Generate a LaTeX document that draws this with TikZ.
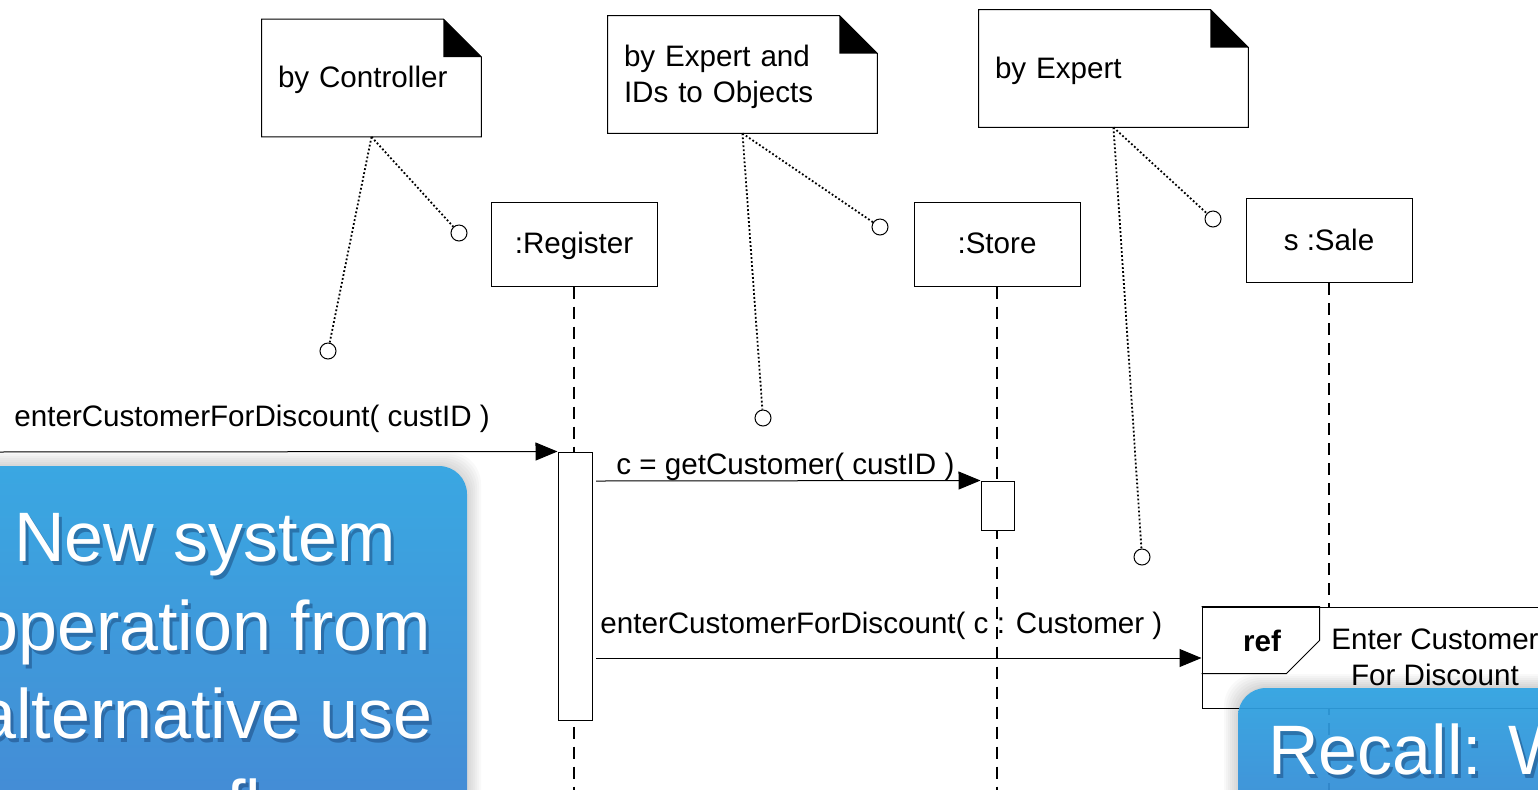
\documentclass[tikz,border=0pt]{standalone}
\usepackage{fontspec}
\setmainfont{Liberation Sans}
\usetikzlibrary{arrows.meta,positioning}

\newcommand\diagfont{\fontsize{14.8}{18}\selectfont}
\newcommand\bigcallfont{\fontsize{35}{44}\selectfont}
\newcommand\notestrut{\rule{0pt}{12.8pt}}
\definecolor{calltop}{RGB}{47,164,227}
\definecolor{callbot}{RGB}{58,132,212}
\definecolor{callshade}{RGB}{20,60,110}

\tikzset{
  lifehead/.style={draw, line width=0.5pt, minimum width=83pt, minimum height=42pt,
    inner sep=0pt, text height=12.6pt, text depth=3pt, font=\diagfont},
  lifeline/.style={dash pattern=on 6pt off 4pt, line width=0.7pt},
  actbox/.style={draw, fill=white, line width=0.5pt, minimum width=17pt, inner sep=0pt},
  msg/.style={-{Triangle[length=11pt,width=9pt]}, line width=0.5pt},
  msglabel/.style={inner sep=0pt, anchor=west, font=\diagfont},
  notebox/.style={minimum height=58.5pt, inner xsep=8pt, inner ysep=0pt,
    align=left, font=\diagfont},
  notelink/.style={line width=0.9pt, dash pattern=on 0.9pt off 1.1pt},
  notering/.style={circle, draw, line width=0.5pt, minimum size=8pt, inner sep=0pt, fill=white},
  callout/.style={top color=calltop, bottom color=callbot, rounded corners=14pt, fill opacity=0.93},
  calltext/.style={inner sep=0pt, anchor=base, text=white, font=\bigcallfont},
  calldrop/.style={inner sep=0pt, anchor=base, text=callshade, opacity=0.45, font=\bigcallfont}
}

\newcommand\notecorner[1]{%
  \draw[line width=0.5pt] (#1.north west) -- ([xshift=-19pt]#1.north east)
    -- ([yshift=-19pt]#1.north east) -- (#1.south east) -- (#1.south west) -- cycle;
  \fill ([xshift=-19pt]#1.north east) -- ([xshift=-19pt,yshift=-19pt]#1.north east)
    -- ([yshift=-19pt]#1.north east) -- cycle;
}

\begin{document}
\begin{tikzpicture}[x=0.5pt,y=-0.5pt]
  \useasboundingbox (0,0) rectangle (1538,789);
  \clip (0,0) rectangle (1538,789);

  % notes
  \node[notebox, text width=93.5pt] (n1) at (371.5,78) {\notestrut by Controller};
  \node[notebox, text width=118.5pt] (n2) at (742.5,74.5) {\notestrut by Expert and\\IDs to Objects};
  \node[notebox, text width=118.5pt] (n3) at (1113.5,68.5) {\notestrut by Expert};
  \notecorner{n1}
  \notecorner{n2}
  \notecorner{n3}

  % lifelines
  \node[lifehead] (reg) at (574,244) {:Register};
  \node[lifehead] (store) at (997,244) {:Store};
  \node[lifehead] (sale) at (1329,240.5) {s :Sale};
  \coordinate (regend) at (574,800);
  \coordinate (storeend) at (997,800);
  \coordinate (saleend) at (1329,800);
  \draw[lifeline] (reg) -- (regend);
  \draw[lifeline] (store) -- (storeend);
  \draw[lifeline] (sale) -- (saleend);

  % activations
  \node[actbox, minimum height=134pt] (regact) at (575,586) {};
  \node[actbox, minimum height=24.5pt, minimum width=16.5pt] (storeact) at (997.5,505.5) {};

  % anchors of the notes
  \node[notering] (r1a) at (328,351) {};
  \node[notering] (r1b) at (459,233) {};
  \node[notering] (r2a) at (763,418) {};
  \node[notering] (r2b) at (880,227) {};
  \node[notering] (r3a) at (1142,557) {};
  \node[notering] (r3b) at (1213,219) {};
  \draw[notelink] (n1.south) -- (r1a);
  \draw[notelink] (n1.south) -- (r1b);
  \draw[notelink] (n2.south) -- (r2a);
  \draw[notelink] (n2.south) -- (r2b);
  \draw[notelink] (n3.south) -- (r3a);
  \draw[notelink] (n3.south) -- (r3b);

  % ref frame
  \node[draw, fill=white, line width=0.5pt, minimum width=189pt, minimum height=50.5pt,
    inner sep=0pt] (reff) at (1391,657.5) {};
  \draw[line width=0.5pt] (reff.north west) -- ++(59pt,0) -- ++(0,-17pt)
    -- ++(-16.5pt,-16.5pt) -- ++(-42.5pt,0);
  \node[inner sep=0pt, font=\diagfont\bfseries] (reflbl) at (1262,641) {ref};
  \node[inner sep=0pt, align=center, font=\diagfont] (reftxt) at (1435,657)
    {Enter Customer\\For Discount};

  % messages
  \coordinate (found) at (-10,452);
  \draw[msg] (found) -- (regact.north west);
  \node[msglabel] (m1) at (14,419) {enterCustomerForDiscount( custID )};
  \coordinate (m2start) at (596,481);
  \draw[msg] (m2start) -- (storeact.north west);
  \node[msglabel] (m2) at (616,467) {c = getCustomer( custID )};
  \coordinate (m3start) at (596,658);
  \draw[msg] (m3start) -- (reff.west |- m3start);
  \node[msglabel] (m3) at (600,626) {enterCustomerForDiscount( c : Customer )};

  % callouts
  \foreach \s in {2,4,...,14}
    \fill[black, opacity=0.022, rounded corners=16pt] ({-80-\s},{466-\s}) rectangle ({467+\s},900);
  \shade[callout] (-80,466) rectangle (467,830);
  \foreach \txt/\yy [count=\i] in {New system/561, operation from/650,
      alternative use/738, case flow/829} {
    \node[calldrop] (cs\i) at (208,\yy+4) {\txt};
    \node[calltext] (cl\i) at (205,\yy) {\txt};
  }

  \foreach \s in {2,4,...,14}
    \fill[black, opacity=0.022, rounded corners=16pt] ({1238-\s},{688-\s}) rectangle (1700,900);
  \shade[callout] (1238,688) rectangle (1700,860);
  \node[calldrop, anchor=base west] (rcs) at (1271,778) {Recall: W};
  \node[calltext, anchor=base west] (rcl) at (1268,774) {Recall: W};
\end{tikzpicture}
\end{document}
